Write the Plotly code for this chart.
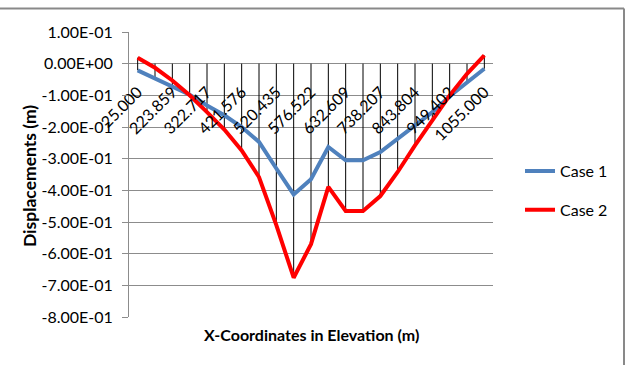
import plotly.graph_objects as go

# ---- data ----
x_labels = ["25.000", "223.859", "322.717", "421.576", "520.435", "576.522",
            "632.609", "738.207", "843.804", "949.402", "1055.000"]
case1 = [-0.021, -0.047, -0.074, -0.098, -0.132, -0.163, -0.200, -0.247, -0.331,
         -0.413, -0.365, -0.263, -0.305, -0.305, -0.279, -0.237, -0.195, -0.153,
         -0.103, -0.058, -0.016]
case2 = [0.019, -0.013, -0.053, -0.100, -0.153, -0.208, -0.274, -0.358, -0.510,
         -0.676, -0.570, -0.389, -0.465, -0.465, -0.418, -0.342, -0.258, -0.179,
         -0.100, -0.032, 0.026]
y_tick_values = [0.1, 0.0, -0.1, -0.2, -0.3, -0.4, -0.5, -0.6, -0.7, -0.8]
y_tick_labels = ["1.00E-01", "0.00E+00", "-1.00E-01", "-2.00E-01", "-3.00E-01",
                 "-4.00E-01", "-5.00E-01", "-6.00E-01", "-7.00E-01", "-8.00E-01"]
series_names = ["Case 1", "Case 2"]

x_pos = list(range(len(case1)))
label_pos = x_pos[::2]

W, H = 625, 365
L, R, T, B = 129, 493, 31.5, 317.3
FONT = "Lato, Carlito, Calibri, sans-serif"

def px(x):
    return (x - L) / (R - L)

def py(y):
    return (B - y) / (B - T)

# drop lines from axis (0) to each category's extreme points
dx, dy = [], []
for i, (a, b) in enumerate(zip(case1, case2)):
    dx += [i, i, None]
    dy += [max(0, a, b), min(0, a, b), None]

fig = go.Figure()
fig.add_trace(go.Scatter(x=dx, y=dy, mode="lines", line=dict(color="black", width=1),
                         showlegend=False, hoverinfo="skip"))
fig.add_trace(go.Scatter(x=x_pos, y=case1, mode="lines", name=series_names[0],
                         legendgroup="a", line=dict(color="#4F81BD", width=4)))
fig.add_trace(go.Scatter(x=x_pos, y=case2, mode="lines", name=series_names[1],
                         legendgroup="b", line=dict(color="#FF0000", width=4)))

y_min, y_max = y_tick_values[-1], y_tick_values[0]

fig.update_layout(
    width=W, height=H,
    margin=dict(l=L, r=W - R, t=T, b=H - B, pad=0),
    paper_bgcolor="white", plot_bgcolor="white",
    font=dict(family=FONT, size=16, color="black"),
    xaxis=dict(
        range=[-0.5, len(case1) - 0.5], tickmode="array",
        tickvals=label_pos, ticktext=x_labels, tickangle=-45,
        anchor="free", position=(0 - y_min) / (y_max - y_min),
        showgrid=False, zeroline=False, showline=False, ticks="",
        ticklabelstandoff=15, tickfont=dict(size=16, color="black"),
        automargin=False,
    ),
    yaxis=dict(
        range=[y_min, y_max], tickmode="array", tickvals=y_tick_values,
        ticktext=y_tick_labels, showgrid=True, gridcolor="#8C8C8C", gridwidth=1,
        zeroline=False, showline=True, linecolor="#8C8C8C", linewidth=1,
        ticks="outside", ticklen=6, tickcolor="#8C8C8C",
        ticklabelstandoff=6, tickfont=dict(size=16, color="black"),
        automargin=False,
    ),
    legend=dict(x=px(520), y=py(154), xanchor="left", yanchor="top",
                font=dict(size=16, color="black"), tracegroupgap=15,
                bgcolor="rgba(0,0,0,0)", itemwidth=30),
    annotations=[
        dict(text="<b>X-Coordinates in Elevation (m)</b>", xref="paper", yref="paper",
             x=0.5, y=py(335), showarrow=False, font=dict(size=16, color="black"),
             xanchor="center", yanchor="middle"),
        dict(text="<b>Displacements (m)</b>", xref="paper", yref="paper",
             x=px(29), y=py(176), showarrow=False, textangle=-90,
             font=dict(size=17.5, color="black"), xanchor="center", yanchor="middle"),
    ],
    shapes=[
        dict(type="line", xref="paper", yref="paper", x0=px(0), x1=px(624),
             y0=py(8), y1=py(8), line=dict(color="#898989", width=2)),
        dict(type="line", xref="paper", yref="paper", x0=px(624), x1=px(624),
             y0=py(8), y1=py(366), line=dict(color="#898989", width=2)),
    ],
)

fig.write_html("out.html", config={"displayModeBar": False},
               post_script="document.body.style.margin='0';")
